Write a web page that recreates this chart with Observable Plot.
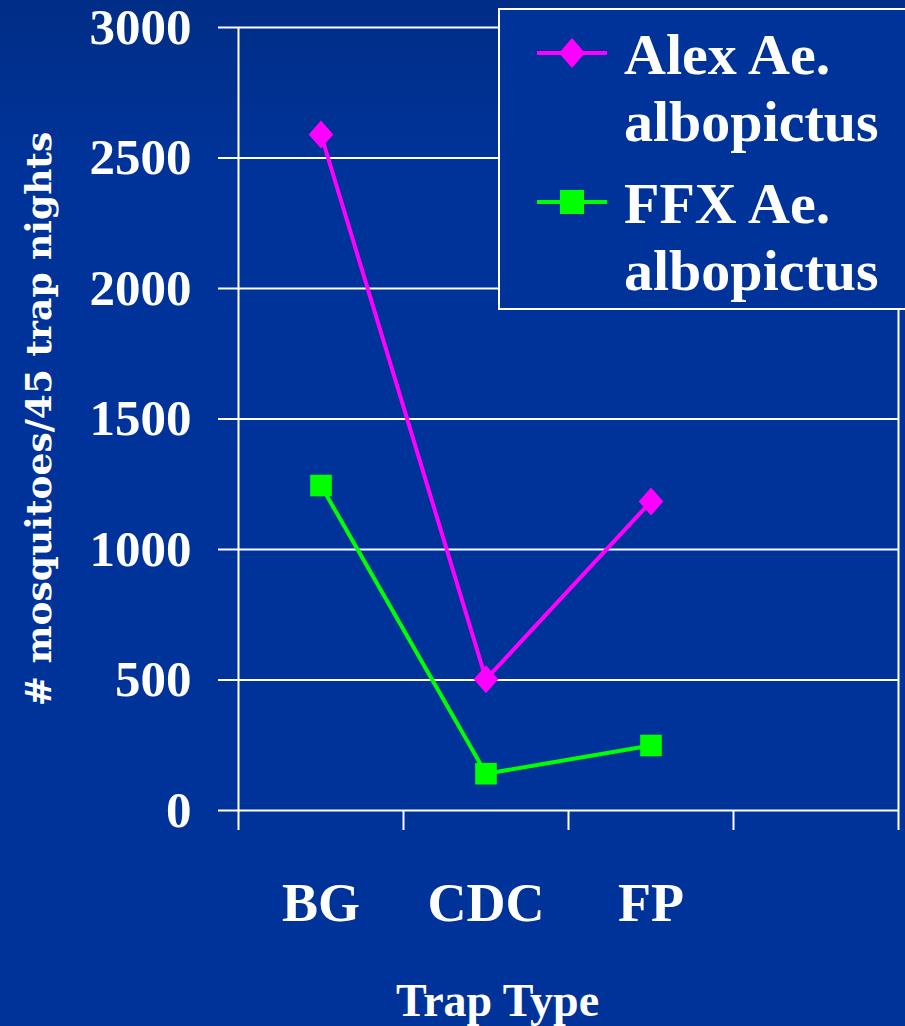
<!DOCTYPE html>
<html>
<head>
<meta charset="utf-8">
<script src="https://cdn.jsdelivr.net/npm/d3@7"></script>
<script src="https://cdn.jsdelivr.net/npm/@observablehq/plot@0.6"></script>
<style>
  html, body { margin: 0; padding: 0; }
  body { width: 905px; height: 1026px; overflow: hidden;
         background: linear-gradient(to bottom, #002d86 0px, #003399 160px, #003399 100%); }
  #wrap { position: relative; width: 905px; height: 1026px; }
  #legend { position: absolute; left: 498px; top: 8px; width: 420px; height: 302px;
            border: 2px solid white; background: #003399; box-sizing: border-box; }
  #legend svg { position: absolute; left: 0; top: 0; }
</style>
</head>
<body>
<div id="wrap"></div>
<script>
const categories = ["BG", "CDC", "FP"];
const seriesNames = ["Alex Ae. albopictus", "FFX Ae. albopictus"];
const alexValues = [2590, 503, 1184];
const ffxValues = [1245, 141, 249];
const yTicks = [0, 500, 1000, 1500, 2000, 2500, 3000];
const colors = ["#ff00ff", "#00ff00"];
const yLabel = "# mosquitoes/45 trap nights";
const xLabel = "Trap Type";

const data = [];
categories.forEach((c, i) => {
  data.push({series: seriesNames[0], cat: c, idx: i + 0.5, value: alexValues[i]});
  data.push({series: seriesNames[1], cat: c, idx: i + 0.5, value: ffxValues[i]});
});
const alexData = data.filter(d => d.series === seriesNames[0]);
const ffxData = data.filter(d => d.series === seriesNames[1]);

// diamond symbol, slightly taller than wide
const tallDiamond = {
  draw(context, size) {
    const r = Math.sqrt(size / Math.PI);
    const w = r * 0.88;
    context.moveTo(0, -r);
    context.lineTo(w, 0);
    context.lineTo(0, r);
    context.lineTo(-w, 0);
    context.closePath();
  }
};

const serif = "'Liberation Serif', 'Times New Roman', serif";

const chart = Plot.plot({
  width: 905,
  height: 1026,
  marginLeft: 238,
  marginRight: 7,
  marginTop: 27,
  marginBottom: 216,
  style: {background: "transparent", color: "white", fontFamily: serif, fontWeight: "bold", overflow: "visible"},
  x: {domain: [0, categories.length + 1], axis: null},
  y: {domain: [0, 3000], axis: null},
  marks: [
    Plot.gridY(yTicks, {stroke: "white", strokeOpacity: 1, strokeWidth: 2}),
    Plot.ruleX([0, categories.length + 1], {stroke: "white", strokeWidth: 2}),
    Plot.axisY({ticks: yTicks, tickSize: 20, tickPadding: 27, fontSize: 51, stroke: "white", strokeWidth: 2,
                label: null, fill: "white", tickFormat: d => String(d)}),
    Plot.axisX({ticks: d3.range(0, categories.length + 2), tickSize: 20, tickFormat: () => "", stroke: "white", strokeWidth: 2, label: null}),
    Plot.axisX({ticks: categories.map((c, i) => i + 0.5), tickSize: 0, tickPadding: 72, fontSize: 54,
                tickFormat: v => categories[Math.round(v - 0.5)], label: null, fill: "white"}),
    Plot.text([xLabel], {frameAnchor: "bottom", lineAnchor: "middle", dy: 191, dx: -71, fontSize: 46, fill: "white"}),
    Plot.text([yLabel], {frameAnchor: "left", textAnchor: "middle", lineAnchor: "middle", rotate: -90, dx: -199, fontSize: 36,
               fill: "white", fontFamily: "DejaVu Serif"}),
    Plot.line(alexData, {x: "idx", y: "value", stroke: colors[0], strokeWidth: 4}),
    Plot.line(ffxData, {x: "idx", y: "value", stroke: colors[1], strokeWidth: 4}),
    Plot.dot(alexData, {x: "idx", y: "value", symbol: tallDiamond, r: 14, fill: colors[0], stroke: "none"}),
    Plot.dot(ffxData, {x: "idx", y: "value", symbol: "square", r: 12.2, fill: colors[1], stroke: "none"})
  ]
});
const wrap = document.getElementById("wrap");
wrap.appendChild(chart);

// Legend (HTML overlay)
const legend = document.createElement("div");
legend.id = "legend";
const ns = "http://www.w3.org/2000/svg";
const lsvg = document.createElementNS(ns, "svg");
lsvg.setAttribute("width", 420);
lsvg.setAttribute("height", 300);
const entries = [
  {lines: ["Alex Ae.", "albopictus"], color: colors[0], shape: "diamond", y: 43},
  {lines: ["FFX Ae.", "albopictus"], color: colors[1], shape: "square", y: 192}
];
entries.forEach(e => {
  const line = document.createElementNS(ns, "line");
  line.setAttribute("x1", 37); line.setAttribute("x2", 107);
  line.setAttribute("y1", e.y); line.setAttribute("y2", e.y);
  line.setAttribute("stroke", e.color); line.setAttribute("stroke-width", 4);
  lsvg.appendChild(line);
  const p = document.createElementNS(ns, "path");
  const cx = 72, cy = e.y;
  if (e.shape === "diamond") {
    p.setAttribute("d", `M${cx},${cy - 15}L${cx + 13},${cy}L${cx},${cy + 15}L${cx - 13},${cy}Z`);
  } else {
    p.setAttribute("d", `M${cx - 12},${cy - 12}h24v24h-24Z`);
  }
  p.setAttribute("fill", e.color);
  lsvg.appendChild(p);
  e.lines.forEach((t, k) => {
    const tx = document.createElementNS(ns, "text");
    tx.setAttribute("x", 124);
    tx.setAttribute("y", e.y + 21 + k * 67);
    tx.setAttribute("fill", "white");
    tx.setAttribute("font-family", serif);
    tx.setAttribute("font-weight", "bold");
    tx.setAttribute("font-size", 58);
    tx.textContent = t;
    lsvg.appendChild(tx);
  });
});
legend.appendChild(lsvg);
wrap.appendChild(legend);
</script>
</body>
</html>
